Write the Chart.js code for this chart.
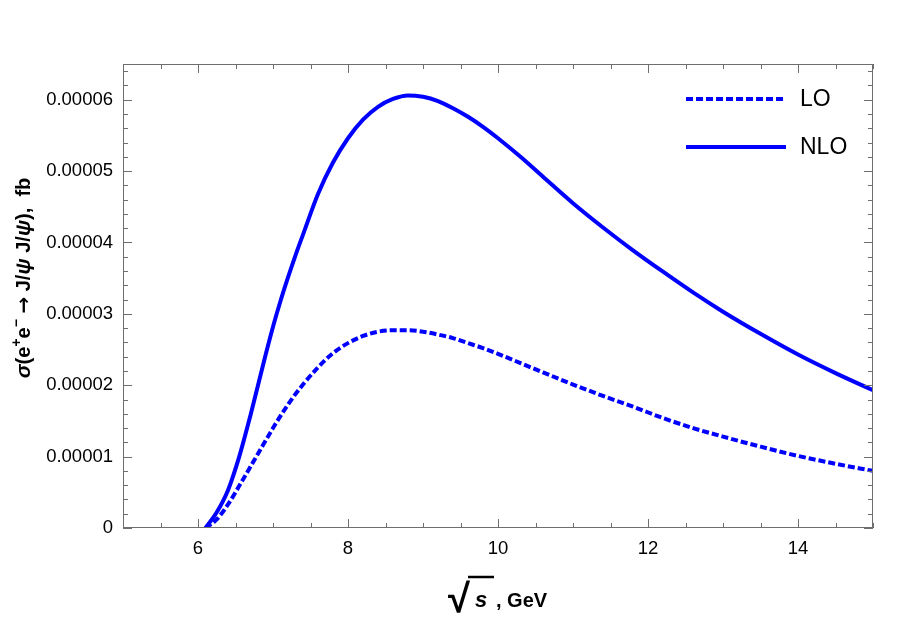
<!DOCTYPE html>
<html>
<head>
<meta charset="utf-8">
<script src="https://cdn.jsdelivr.net/npm/chart.js@4/dist/chart.umd.min.js"></script>
<style>
  html, body { margin: 0; padding: 0; background: #ffffff; }
  #wrap { width: 913px; height: 618px; }
</style>
</head>
<body>
<div id="wrap"><canvas id="c" width="913" height="618"></canvas></div>
<script>
// ---- data ----
const sqrtS = [6.1, 6.25, 6.4, 6.55, 6.7, 6.8, 6.9, 7.0, 7.1, 7.2, 7.3, 7.4, 7.6, 7.8, 8.0, 8.2, 8.4, 8.6, 8.8, 9.0, 9.2, 9.4, 9.6, 9.8, 10.0, 10.3, 10.6, 11.0, 11.4, 11.8, 12.2, 12.6, 13.0, 13.5, 14.0, 14.5, 15.0];
const nloValues = [0, 0.22e-5, 0.53e-5, 1.0e-5, 1.58e-5, 2.0e-5, 2.42e-5, 2.82e-5, 3.18e-5, 3.51e-5, 3.82e-5, 4.11e-5, 4.68e-5, 5.12e-5, 5.46e-5, 5.72e-5, 5.90e-5, 6.01e-5, 6.06e-5, 6.04e-5, 5.98e-5, 5.88e-5, 5.76e-5, 5.62e-5, 5.46e-5, 5.20e-5, 4.92e-5, 4.55e-5, 4.21e-5, 3.89e-5, 3.59e-5, 3.30e-5, 3.03e-5, 2.72e-5, 2.43e-5, 2.17e-5, 1.93e-5];
const loSqrtS = [6.1, 6.25, 6.4, 6.6, 6.8, 7.0, 7.2, 7.4, 7.6, 7.8, 8.0, 8.2, 8.4, 8.6, 8.8, 9.0, 9.2, 9.4, 9.6, 9.8, 10.0, 10.3, 10.6, 11.0, 11.4, 11.8, 12.2, 12.6, 13.0, 13.5, 14.0, 14.5, 15.0];
const loValues = [0, 0.12e-5, 0.33e-5, 0.68e-5, 1.04e-5, 1.40e-5, 1.73e-5, 2.01e-5, 2.25e-5, 2.45e-5, 2.59e-5, 2.69e-5, 2.75e-5, 2.77e-5, 2.77e-5, 2.75e-5, 2.71e-5, 2.66e-5, 2.59e-5, 2.52e-5, 2.44e-5, 2.31e-5, 2.18e-5, 2.01e-5, 1.85e-5, 1.70e-5, 1.54e-5, 1.40e-5, 1.28e-5, 1.14e-5, 1.01e-5, 0.90e-5, 0.80e-5];
const xTickValues = [6, 8, 10, 12, 14];
const yTickValues = [0, 0.00001, 0.00002, 0.00003, 0.00004, 0.00005, 0.00006];
const seriesNames = ['LO', 'NLO'];

const BLUE = '#0000ff';
const FRAME = '#6e6e6e';
const FONT = "'Liberation Sans', Arial, sans-serif";

function drawRich(ctx, segs, cx, cy, angle) {
  ctx.save();
  ctx.translate(cx, cy);
  ctx.rotate(angle);
  ctx.textBaseline = 'alphabetic';
  ctx.textAlign = 'left';
  let total = 0;
  segs.forEach(s => { ctx.font = s.font; s.w = ctx.measureText(s.t).width; total += s.w + (s.gap || 0); });
  let xx = -total / 2;
  segs.forEach(s => {
    ctx.font = s.font;
    ctx.fillStyle = '#000';
    ctx.fillText(s.t, xx, 7 + (s.dy || 0));
    xx += s.w + (s.gap || 0);
  });
  ctx.restore();
}

const framePlugin = {
  id: 'framePlugin',
  afterDraw(chart) {
    const { ctx, chartArea: a, scales } = chart;
    const x = scales.x, y = scales.y;
    ctx.save();
    ctx.strokeStyle = FRAME;
    ctx.lineWidth = 1;
    ctx.strokeRect(Math.round(a.left) + 0.5, Math.round(a.top) + 0.5, Math.round(a.right - a.left) - 1, Math.round(a.bottom - a.top) - 1);
    ctx.beginPath();
    // x ticks (bottom and top), minor every 0.5
    for (let k = 0; k <= 20; k++) {
      const v = 5 + k * 0.5;
      const px = Math.round(x.getPixelForValue(v)) + 0.5;
      const major = xTickValues.includes(v);
      const len = major ? 9 : 5;
      ctx.moveTo(px, a.bottom); ctx.lineTo(px, a.bottom - len);
      ctx.moveTo(px, a.top); ctx.lineTo(px, a.top + len);
    }
    // y ticks (left and right), minor every 0.000002
    for (let k = 0; k <= 32; k++) {
      const v = k * 0.000002;
      const py = Math.round(y.getPixelForValue(v)) + 0.5;
      const major = k % 5 === 0;
      const len = major ? 9 : 5;
      ctx.moveTo(a.left, py); ctx.lineTo(a.left + len, py);
      ctx.moveTo(a.right, py); ctx.lineTo(a.right - len, py);
    }
    ctx.stroke();

    // legend
    const ds = chart.data.datasets;
    const legY = [99, 147];
    ds.forEach((d, i) => {
      ctx.beginPath();
      ctx.strokeStyle = d.borderColor;
      ctx.lineWidth = d.borderWidth;
      ctx.setLineDash(d.borderDash || []);
      ctx.lineCap = 'butt';
      ctx.moveTo(686, legY[i]); ctx.lineTo(786, legY[i]);
      ctx.stroke();
      ctx.setLineDash([]);
      ctx.fillStyle = '#000';
      ctx.font = '23px ' + FONT;
      ctx.textBaseline = 'middle';
      ctx.textAlign = 'left';
      ctx.fillText(d.label, 800, legY[i] + 1);
    });

    // y axis title
    const B = 'bold 20px ' + FONT, BI = 'italic bold 21px ' + FONT, SUP = 'bold 14px ' + FONT,
          AR = "bold 20px 'DejaVu Sans', sans-serif";
    drawRich(ctx, [
      { t: 'σ', font: BI }, { t: '(e', font: B }, { t: '+', font: SUP, dy: -9 },
      { t: 'e', font: B }, { t: '−', font: SUP, dy: -9 }, { t: ' ', font: B }, { t: '→', font: AR },
      { t: ' J/', font: B }, { t: 'ψ', font: BI }, { t: ' J/', font: B }, { t: 'ψ', font: BI }, { t: '),  fb', font: B }
    ], 23, 278, -Math.PI / 2);

    // x axis title: sqrt(s), GeV
    ctx.fillStyle = '#000';
    ctx.textBaseline = 'alphabetic';
    ctx.textAlign = 'left';
    ctx.font = 'bold 40px ' + FONT;
    ctx.fillText('√', 448, 612);
    ctx.font = 'italic bold 22px ' + FONT;
    ctx.fillText('s', 475, 607);
    ctx.font = 'bold 20px ' + FONT;
    ctx.fillText(', GeV', 496, 607);
    ctx.beginPath();
    ctx.strokeStyle = '#000';
    ctx.lineWidth = 2.5;
    ctx.moveTo(468, 577); ctx.lineTo(494, 577);
    ctx.stroke();
    ctx.restore();
  }
};

new Chart(document.getElementById('c'), {
  type: 'line',
  data: {
    datasets: [
      {
        label: seriesNames[0],
        data: loSqrtS.map((v, i) => ({ x: v, y: loValues[i] })),
        borderColor: BLUE, borderWidth: 4, borderDash: [7, 3], borderCapStyle: 'butt',
        pointRadius: 0, fill: false, cubicInterpolationMode: 'monotone'
      },
      {
        label: seriesNames[1],
        data: sqrtS.map((v, i) => ({ x: v, y: nloValues[i] })),
        borderColor: BLUE, borderWidth: 4,
        pointRadius: 0, fill: false, cubicInterpolationMode: 'monotone'
      }
    ]
  },
  options: {
    responsive: false,
    devicePixelRatio: 1,
    animation: false,
    layout: { padding: { left: 0, top: 64, right: 40, bottom: 0 } },
    plugins: { legend: { display: false }, tooltip: { enabled: false } },
    scales: {
      x: {
        type: 'linear', min: 5, max: 15,
        grid: { display: false, drawTicks: false },
        border: { display: false },
        afterBuildTicks: s => { s.ticks = xTickValues.map(v => ({ value: v })); },
        afterFit: s => { s.height = 90; },
        ticks: { color: '#000', font: { family: FONT, size: 18.5 }, padding: 10, autoSkip: false, maxRotation: 0,
                 callback: v => String(v) }
      },
      y: {
        type: 'linear', min: 0, max: 0.000065,
        grid: { display: false, drawTicks: false },
        border: { display: false },
        afterBuildTicks: s => { s.ticks = yTickValues.map(v => ({ value: v })); },
        afterFit: s => { s.width = 123; },
        ticks: { color: '#000', font: { family: FONT, size: 18.5 }, padding: 10, autoSkip: false,
                 callback: v => (v === 0 ? '0' : v.toFixed(5)) }
      }
    }
  },
  plugins: [framePlugin]
});
</script>
</body>
</html>
